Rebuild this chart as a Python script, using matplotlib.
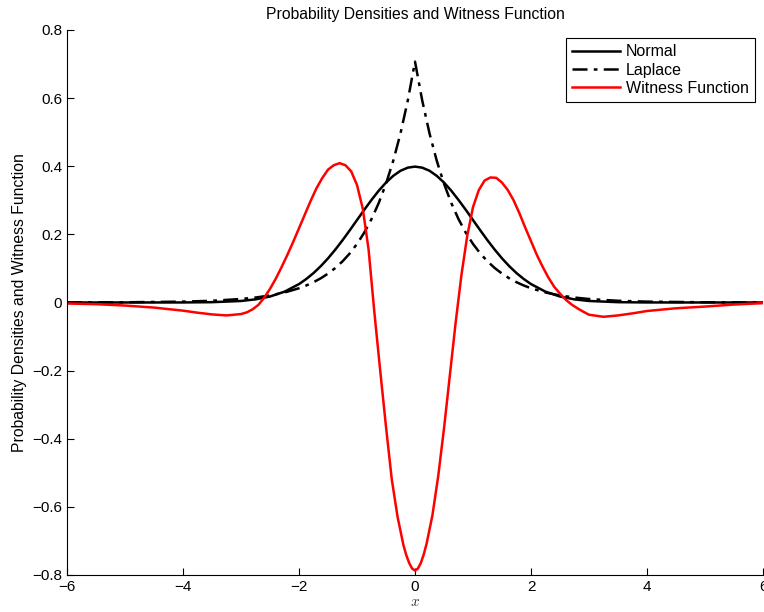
import numpy as np
import matplotlib.pyplot as plt

plt.rcParams['font.family'] = ['Liberation Sans', 'DejaVu Sans']
plt.rcParams['mathtext.fontset'] = 'cm'

# density sample positions (denser around the centre)
x = [-6, -5, -4, -3.5, -3, -2.75, -2.5, -2.25,
     -2, -1.875, -1.75, -1.625, -1.5, -1.375, -1.25, -1.125,
     -1, -0.875, -0.75, -0.625, -0.5, -0.375, -0.25, -0.125,
     0, 0.125, 0.25, 0.375, 0.5, 0.625, 0.75, 0.875,
     1, 1.125, 1.25, 1.375, 1.5, 1.625, 1.75, 1.875,
     2, 2.25, 2.5, 2.75, 3, 3.5, 4, 5, 6]

normal = [0.0, 0.0, 0.0001, 0.0009, 0.0044, 0.0091, 0.0175, 0.0317,
          0.0540, 0.0689, 0.0863, 0.1066, 0.1295, 0.1550, 0.1826, 0.2119,
          0.2420, 0.2721, 0.3011, 0.3282, 0.3521, 0.3718, 0.3867, 0.3958,
          0.3989, 0.3958, 0.3867, 0.3718, 0.3521, 0.3282, 0.3011, 0.2721,
          0.2420, 0.2119, 0.1826, 0.1550, 0.1295, 0.1066, 0.0863, 0.0689,
          0.0540, 0.0317, 0.0175, 0.0091, 0.0044, 0.0009, 0.0001, 0.0, 0.0]

laplace = [0.0002, 0.0006, 0.0025, 0.0050, 0.0102, 0.0145, 0.0206, 0.0293,
           0.0418, 0.0499, 0.0595, 0.0710, 0.0848, 0.1011, 0.1207, 0.1440,
           0.1719, 0.2051, 0.2448, 0.2922, 0.3487, 0.4161, 0.4965, 0.5925,
           0.7071, 0.5925, 0.4965, 0.4161, 0.3487, 0.2922, 0.2448, 0.2051,
           0.1719, 0.1440, 0.1207, 0.1011, 0.0848, 0.0710, 0.0595, 0.0499,
           0.0418, 0.0293, 0.0206, 0.0145, 0.0102, 0.0050, 0.0025, 0.0006, 0.0002]

# witness function
witness_x = [-6, -5.5, -5, -4.5, -4, -3.75, -3.5, -3.25,
             -3.0, -2.9, -2.8, -2.7, -2.6, -2.5, -2.4, -2.3, -2.2, -2.1,
             -2.0, -1.9, -1.8, -1.7, -1.6, -1.5, -1.4, -1.3, -1.2, -1.1,
             -1.0, -0.9, -0.8, -0.7, -0.6, -0.5, -0.4, -0.3, -0.2, -0.15, -0.1, -0.05,
             0.0, 0.05, 0.1, 0.15, 0.2, 0.3, 0.4, 0.5, 0.6, 0.7, 0.8, 0.9,
             1.0, 1.1, 1.2, 1.3, 1.4, 1.5, 1.6, 1.7, 1.8, 1.9,
             2.0, 2.1, 2.2, 2.3, 2.4, 2.5, 2.6, 2.7, 2.8, 2.9,
             3.0, 3.25, 3.5, 3.75, 4, 4.5, 5, 5.5, 6]

witness = [-0.003, -0.005, -0.009, -0.015, -0.024, -0.030, -0.035, -0.038,
           -0.034, -0.029, -0.020, -0.007, 0.014, 0.040, 0.070, 0.104, 0.140, 0.178,
           0.218, 0.258, 0.298, 0.335, 0.365, 0.390, 0.403, 0.409, 0.403, 0.385,
           0.345, 0.275, 0.155, -0.030, -0.200, -0.365, -0.520, -0.630, -0.712, -0.742, -0.765, -0.781,
           -0.787, -0.781, -0.765, -0.740, -0.708, -0.625, -0.510, -0.370, -0.215, -0.060, 0.080, 0.195,
           0.280, 0.330, 0.358, 0.367, 0.366, 0.352, 0.330, 0.300, 0.262, 0.220,
           0.180, 0.140, 0.105, 0.073, 0.046, 0.026, 0.008, -0.006, -0.017, -0.027,
           -0.036, -0.042, -0.038, -0.032, -0.025, -0.017, -0.012, -0.006, -0.002]

xticks = [-6, -4, -2, 0, 2, 4, 6]
xtick_labels = ['\u22126', '\u22124', '\u22122', '0', '2', '4', '6']
yticks = [-0.8, -0.6, -0.4, -0.2, 0, 0.2, 0.4, 0.6, 0.8]
ytick_labels = ['\u22120.8', '\u22120.6', '\u22120.4', '\u22120.2', '0',
                '0.2', '0.4', '0.6', '0.8']

fig = plt.figure(figsize=(7.64, 6.12), dpi=100)
ax = fig.add_axes([0.0877, 0.0605, 0.911, 0.8905])

ax.plot(x, normal, color='black', linewidth=1.8, label='Normal')
ax.plot(x, laplace, color='black', linewidth=1.8, linestyle='-.',
        dashes=(6, 2.5, 1.5, 2.5), label='Laplace')
ax.plot(witness_x, witness, color='red', linewidth=1.8, label='Witness Function')

ax.set_xlim(-6, 6)
ax.set_ylim(-0.8, 0.8)
ax.set_xticks(xticks)
ax.set_xticklabels(xtick_labels)
ax.set_yticks(yticks)
ax.set_yticklabels(ytick_labels)
ax.tick_params(direction='in', length=5, labelsize=11, top=False, right=False)

for side in ['top', 'right']:
    ax.spines[side].set_visible(False)

ax.set_title('Probability Densities and Witness Function', fontsize=11.3, pad=8)
ax.set_ylabel('Probability Densities and Witness Function', fontsize=11.3)
ax.set_xlabel('$x$', fontsize=11, labelpad=1, color='#333333')

leg = ax.legend(loc='upper right', fontsize=11.5, frameon=True, fancybox=False,
                edgecolor='black', framealpha=1, handlelength=3.0,
                borderaxespad=0.5, labelspacing=0.2, handletextpad=0.35,
                borderpad=0.4)
leg.get_frame().set_linewidth(0.8)

fig.savefig('out.png', dpi=100)
